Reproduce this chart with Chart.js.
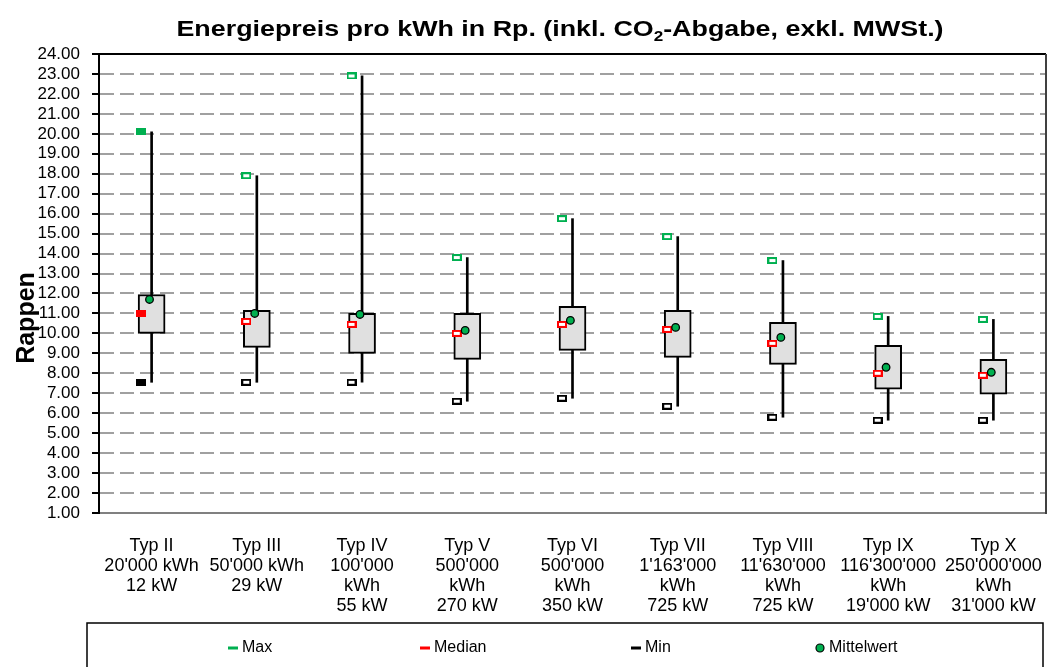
<!DOCTYPE html>
<html>
<head>
<meta charset="utf-8">
<script src="https://cdn.jsdelivr.net/npm/chart.js@4"></script>
<style>
  html, body { margin: 0; padding: 0; background: #fff; }
  #wrap { width: 1054px; height: 667px; }
</style>
</head>
<body>
<div id="wrap"><canvas id="myChart" width="1054" height="667"></canvas></div>
<script>
// Categories (multi-line tick labels)
var categories = [
    ["Typ II", "20'000 kWh", "12 kW"],
    ["Typ III", "50'000 kWh", "29 kW"],
    ["Typ IV", "100'000", "kWh", "55 kW"],
    ["Typ V", "500'000", "kWh", "270 kW"],
    ["Typ VI", "500'000", "kWh", "350 kW"],
    ["Typ VII", "1'163'000", "kWh", "725 kW"],
    ["Typ VIII", "11'630'000", "kWh", "725 kW"],
    ["Typ IX", "116'300'000", "kWh", "19'000 kW"],
    ["Typ X", "250'000'000", "kWh", "31'000 kW"]
];

// Values in Rappen
var maxValues    = [20.1, 17.9, 22.9, 13.8, 15.75, 14.85, 13.65, 10.85, 10.7];
var upperQuart   = [11.95, 11.15, 11.0, 11.0, 11.35, 11.15, 10.55, 9.4, 8.7];
var medianValues = [11.0, 10.6, 10.45, 10.0, 10.45, 10.2, 9.5, 8.0, 7.9];
var lowerQuart   = [10.0, 9.3, 9.0, 8.7, 9.15, 8.8, 8.45, 7.2, 6.95];
var minValues    = [7.55, 7.55, 7.55, 6.6, 6.75, 6.35, 5.8, 5.65, 5.65];
var meanValues   = [11.7, 11.0, 10.95, 10.15, 10.65, 10.3, 9.8, 8.3, 8.05];

var yMin = 1;
var yMax = 24;
var yStep = 1;

var legendLabels = ["Max", "Median", "Min", "Mittelwert"];

var GREEN = '#00b050';
var RED = '#ff0000';
var FONT = '"Liberation Sans", Arial, sans-serif';

// small rectangle markers like the ones in the original
function makeMarker(color, filled) {
    var c = document.createElement('canvas');
    c.width = 10;
    c.height = 7;
    var g = c.getContext('2d');
    g.fillStyle = filled ? color : '#ffffff';
    g.fillRect(1, 1, 8, 5);
    g.strokeStyle = color;
    g.lineWidth = 2;
    g.strokeRect(1, 1, 8, 5);
    return c;
}

function markerStyles(color) {
    var hollow = makeMarker(color, false);
    var filled = makeMarker(color, true);
    return categories.map(function(c, i) { return i === 0 ? filled : hollow; });
}

function pointsFrom(values, shift) {
    return values.map(function(v, i) { return { x: i + shift, y: v }; });
}

var whiskers = minValues.map(function(v, i) { return [v, maxValues[i]]; });
var boxes = lowerQuart.map(function(v, i) { return [v, upperQuart[i]]; });

// text in the original is a bit wider than it is tall
var STRETCH = 1.22;

var extras = {
    id: 'extras',
    afterDraw: function(chart) {
        var ctx = chart.ctx;
        var a = chart.chartArea;
        ctx.save();

        // top and right frame of the plot area
        ctx.lineWidth = 2;
        ctx.strokeStyle = '#000';
        ctx.beginPath();
        ctx.moveTo(a.left, a.top);
        ctx.lineTo(a.right, a.top);
        ctx.stroke();
        ctx.strokeStyle = '#404040';
        ctx.beginPath();
        ctx.moveTo(a.right, a.top);
        ctx.lineTo(a.right, a.bottom + 1);
        ctx.stroke();

        // title with subscript
        var p1 = 'Energiepreis pro kWh in Rp. (inkl. CO';
        var p2 = '2';
        var p3 = '-Abgabe, exkl. MWSt.)';
        var big = 'bold 22px ' + FONT;
        var small = 'bold 14px ' + FONT;
        ctx.fillStyle = '#000';
        ctx.textBaseline = 'alphabetic';
        ctx.textAlign = 'left';
        ctx.font = big;
        var w1 = ctx.measureText(p1).width;
        var w3 = ctx.measureText(p3).width;
        ctx.font = small;
        var w2 = ctx.measureText(p2).width;
        ctx.save();
        ctx.translate(560, 0);
        ctx.scale(STRETCH, 1);
        var x = -(w1 + w2 + w3) / 2;
        ctx.font = big;
        ctx.fillText(p1, x, 36);
        ctx.font = small;
        ctx.fillText(p2, x + w1, 41);
        ctx.font = big;
        ctx.fillText(p3, x + w1 + w2, 36);
        ctx.restore();

        // y axis title
        ctx.save();
        ctx.translate(27, 318);
        ctx.rotate(-Math.PI / 2);
        ctx.textAlign = 'center';
        ctx.textBaseline = 'middle';
        ctx.font = 'bold 25px ' + FONT;
        ctx.fillText('Rappen', 0, 0);
        ctx.restore();

        // legend box
        ctx.lineWidth = 1.5;
        ctx.strokeStyle = '#000';
        ctx.strokeRect(87, 623, 956, 60);
        ctx.font = '16px ' + FONT;
        ctx.textBaseline = 'middle';
        var ly = 648;
        var items = [
            { x: 228, color: GREEN },
            { x: 420, color: RED },
            { x: 631, color: '#000' }
        ];
        items.forEach(function(it, i) {
            ctx.fillStyle = it.color;
            ctx.fillRect(it.x, ly - 1.5, 10, 3);
            ctx.fillStyle = '#000';
            ctx.fillText(legendLabels[i], it.x + 14, ly);
        });
        ctx.beginPath();
        ctx.arc(820, ly, 4, 0, Math.PI * 2);
        ctx.fillStyle = GREEN;
        ctx.fill();
        ctx.lineWidth = 1.2;
        ctx.strokeStyle = '#000';
        ctx.stroke();
        ctx.fillStyle = '#000';
        ctx.fillText(legendLabels[3], 829, ly);

        ctx.restore();
    }
};

var ctx = document.getElementById('myChart').getContext('2d');
var myChart = new Chart(ctx, {
    type: 'bar',
    data: {
        labels: categories,
        datasets: [{
            label: 'Spannweite',
            data: whiskers,
            backgroundColor: '#000',
            borderWidth: 0,
            barThickness: 2,
            grouped: false,
            order: 5
        }, {
            label: 'Quartile',
            data: boxes,
            backgroundColor: '#e0e0e0',
            borderColor: '#000',
            borderWidth: 2,
            borderSkipped: false,
            barThickness: 27,
            grouped: false,
            order: 4
        }, {
            type: 'line',
            label: 'Max',
            data: pointsFrom(maxValues, -0.1),
            xAxisID: 'x2',
            showLine: false,
            pointStyle: markerStyles(GREEN),
            order: 3
        }, {
            type: 'line',
            label: 'Median',
            data: pointsFrom(medianValues, -0.1),
            xAxisID: 'x2',
            showLine: false,
            pointStyle: markerStyles(RED),
            order: 2
        }, {
            type: 'line',
            label: 'Min',
            data: pointsFrom(minValues, -0.1),
            xAxisID: 'x2',
            showLine: false,
            pointStyle: markerStyles('#000'),
            order: 2
        }, {
            type: 'line',
            label: 'Mittelwert',
            data: pointsFrom(meanValues, -0.02),
            xAxisID: 'x2',
            showLine: false,
            pointStyle: 'circle',
            pointRadius: 3.8,
            pointBackgroundColor: GREEN,
            pointBorderColor: '#000',
            pointBorderWidth: 1.3,
            order: 1
        }]
    },
    options: {
        responsive: false,
        animation: false,
        layout: { padding: { left: 0, right: 8, top: 54, bottom: 0 } },
        plugins: {
            legend: { display: false },
            title: { display: false },
            tooltip: { enabled: false }
        },
        scales: {
            x: {
                type: 'category',
                grid: { display: false, drawTicks: false },
                border: { display: true, color: '#808080', width: 2 },
                ticks: {
                    color: '#000',
                    maxRotation: 0,
                    autoSkip: false,
                    padding: 23,
                    font: { family: FONT, size: 18, lineHeight: 20 / 18 }
                },
                afterFit: function(scale) {
                    scale.height = 154;
                    scale.paddingLeft = 0;
                    scale.paddingRight = 0;
                }
            },
            x2: {
                type: 'linear',
                position: 'top',
                offset: false,
                min: -0.5,
                max: categories.length - 0.5,
                grid: { display: false, drawTicks: false, offset: false },
                border: { display: false },
                ticks: { display: false },
                afterFit: function(scale) {
                    scale.height = 0;
                    scale.paddingLeft = 0;
                    scale.paddingRight = 0;
                }
            },
            y: {
                min: yMin,
                max: yMax,
                grid: {
                    color: '#a0a0a0',
                    lineWidth: 2,
                    tickColor: '#000',
                    tickLength: 7,
                    tickWidth: 2,
                    tickBorderDash: [0, 0]
                },
                border: { display: true, color: '#000', width: 2, dash: [14, 6] },
                ticks: {
                    stepSize: yStep,
                    autoSkip: false,
                    color: '#000',
                    padding: 12,
                    font: { family: FONT, size: 17 },
                    callback: function(v) { return v.toFixed(2); }
                },
                afterFit: function(scale) { scale.width = 99; }
            }
        }
    },
    plugins: [extras]
});
</script>
</body>
</html>
